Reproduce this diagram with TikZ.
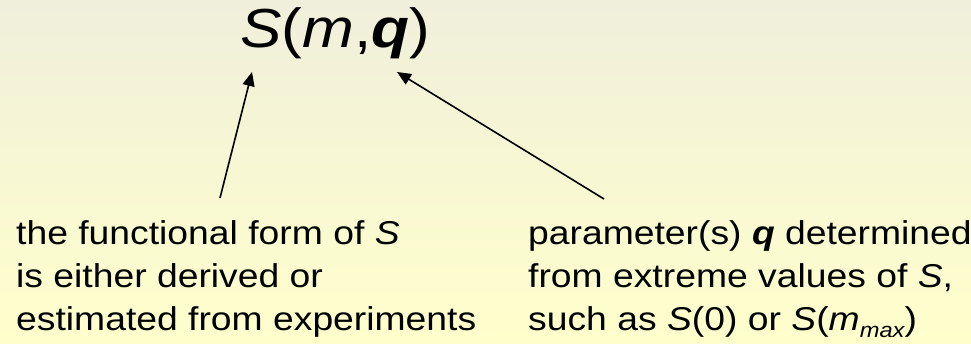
\documentclass[tikz,border=0pt]{standalone}
\usepackage{fontspec}
\setmainfont[FakeStretch=1.13]{Liberation Sans}
\usepackage{xcolor}
\usetikzlibrary{arrows.meta, positioning, calc}

\definecolor{slidetop}{RGB}{240,239,220}
\definecolor{slidebottom}{RGB}{255,255,204}

\tikzset{
  formula/.style={inner sep=0pt, font=\fontsize{55}{60}\selectfont},
  note/.style={inner sep=0pt, align=left, font=\fontsize{33}{43}\selectfont},
  pointer/.style={line width=1.6pt, -{Triangle[length=14pt,width=12pt]}}
}

\begin{document}
\begin{tikzpicture}[x=1pt,y=1pt]
  % Slide background
  \useasboundingbox (0,0) rectangle (971,344);
  \shade[top color=slidetop, bottom color=slidebottom] (0,0) rectangle (971,344);

  % The expression
  \node[formula, anchor=base west] (expr) at (240,296)
    {\textit{S}(\textit{m},\textbf{\textit{q}})};

  % Explanations
  \node[note, anchor=north west] (form) at (16,124)
    {the functional form of \textit{S}\\
     is either derived or\\
     estimated from experiments};
  \node[note, anchor=north west] (param) at (528,124)
    {parameter(s) \textbf{\textit{q}} determined\\
     from extreme values of \textit{S},\\
     such as \textit{S}(0) or \textit{S}(\textit{m}\raisebox{-7pt}{\fontsize{21}{21}\selectfont\itshape max})};

  % Arrow ends
  \coordinate (formtail) at (220,146);
  \coordinate (formtip) at (252,272);
  \coordinate (paramtail) at (604,145);
  \coordinate (paramtip) at (397,272);

  \draw[pointer] (formtail) -- (formtip);
  \draw[pointer] (paramtail) -- (paramtip);
\end{tikzpicture}
\end{document}
